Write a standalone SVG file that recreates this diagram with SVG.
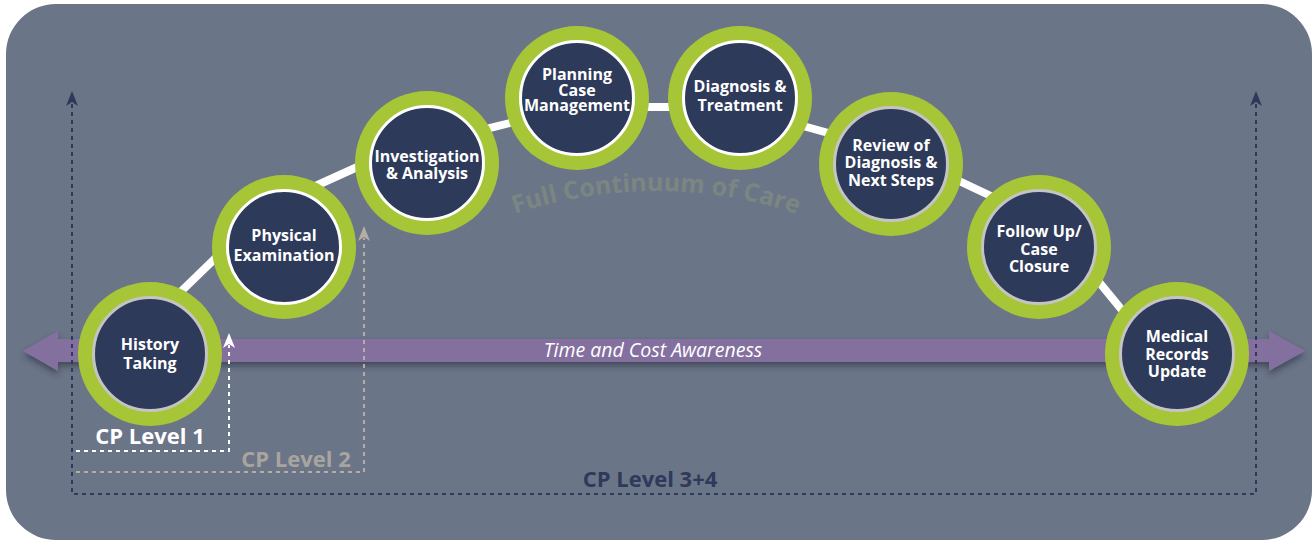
<svg xmlns="http://www.w3.org/2000/svg" width="1314" height="542" viewBox="0 0 1314 542">
<defs>
<style>
.ring{fill:#a7c637}
.disc{fill:#2e3a5a;stroke-width:3}
.dw{stroke:#ffffff}
.dg{stroke:#c4c4c4}
.lbl{font-family:"Open Sans","Liberation Sans",sans-serif;font-weight:700;font-size:16px;fill:#ffffff;text-anchor:middle}
.arc{stroke:#ffffff;stroke-width:8;stroke-linecap:round;fill:none}
.dash{fill:none;stroke-width:2;stroke-dasharray:4 4}
.cp{font-family:"Open Sans","Liberation Sans",sans-serif;font-weight:700;font-size:22px}
</style>
<filter id="sh" x="-5%" y="-60%" width="110%" height="260%">
<feDropShadow dx="0" dy="4" stdDeviation="3" flood-color="#262b3c" flood-opacity="0.6"/>
</filter>
<path id="curve" d="M 406 267.9 A 445 445 0 0 1 906 267.9"/>
</defs>
<rect width="1314" height="542" fill="#ffffff"/>
<rect x="6" y="4" width="1306" height="536" rx="50" ry="50" fill="#6b7588"/>
<text font-family="'Open Sans','Liberation Sans',sans-serif" font-weight="700" font-size="25" fill="#7a8681" text-anchor="middle"><textPath href="#curve" startOffset="50%">Full Continuum of Care</textPath></text>
<g id="timeArrow">
<polygon points="23,351 58,331 58,339 1269,339 1269,331 1305,351 1269,371 1269,362 58,362 58,371" fill="#84709f" filter="url(#sh)"/>
<text x="653" y="357" font-family="'Open Sans','Liberation Sans',sans-serif" font-style="italic" font-size="19.5" fill="#ffffff" text-anchor="middle">Time and Cost Awareness</text>
</g>
<g id="connectors">
<polyline class="dash" stroke="#2e3a5a" points="72,104 72,494 1256,494 1256,104"/>
<polygon points="72,91 78,106 72,102 66,106" fill="#2e3a5a"/>
<polygon points="1256,91 1262,106 1256,102 1250,106" fill="#2e3a5a"/>
<polyline class="dash" stroke="#b5aea5" points="76,472 364,472 364,238"/>
<polygon points="364,226 370,241 364,237 358,241" fill="#b5aea5"/>
<polyline class="dash" stroke="#ffffff" points="76,451 229,451 229,345"/>
<polygon points="229,333 235,348 229,344 223,348" fill="#ffffff"/>
<line class="arc" x1="165" y1="307" x2="230" y2="244"/>
<line class="arc" x1="300" y1="193" x2="375" y2="159"/>
<line class="arc" x1="470" y1="133" x2="530" y2="118"/>
<line class="arc" x1="620" y1="107" x2="700" y2="107"/>
<line class="arc" x1="785" y1="121" x2="850" y2="139"/>
<line class="arc" x1="940" y1="172" x2="1010" y2="205"/>
<line class="arc" x1="1085" y1="265" x2="1140" y2="332"/>
</g>
<g id="history">
<circle class="ring" cx="150" cy="354" r="72"/>
<circle class="disc dg" cx="150" cy="354" r="56.5"/>
<text class="lbl"><tspan x="150" y="350">History</tspan><tspan x="150" y="369">Taking</tspan></text>
</g>
<g id="physical">
<circle class="ring" cx="284" cy="247" r="72"/>
<circle class="disc dw" cx="284" cy="247" r="56.5"/>
<text class="lbl"><tspan x="284" y="241">Physical</tspan><tspan x="284" y="261">Examination</tspan></text>
</g>
<g id="investigation">
<circle class="ring" cx="427" cy="163" r="72"/>
<circle class="disc dw" cx="427" cy="163" r="56.5"/>
<text class="lbl"><tspan x="427" y="162">Investigation</tspan><tspan x="427" y="179">&amp; Analysis</tspan></text>
</g>
<g id="planning">
<circle class="ring" cx="577" cy="98" r="72"/>
<circle class="disc dw" cx="577" cy="98" r="56.5"/>
<text class="lbl"><tspan x="577" y="80">Planning</tspan><tspan x="577" y="95.5">Case</tspan><tspan x="577" y="111">Management</tspan></text>
</g>
<g id="diagnosis">
<circle class="ring" cx="740" cy="98" r="72"/>
<circle class="disc dw" cx="740" cy="98" r="56.5"/>
<text class="lbl"><tspan x="740" y="92">Diagnosis &amp;</tspan><tspan x="740" y="111">Treatment</tspan></text>
</g>
<g id="review">
<circle class="ring" cx="891" cy="164" r="72"/>
<circle class="disc dg" cx="891" cy="164" r="56.5"/>
<text class="lbl"><tspan x="891" y="150.5">Review of</tspan><tspan x="891" y="168">Diagnosis &amp;</tspan><tspan x="891" y="185.5">Next Steps</tspan></text>
</g>
<g id="followup">
<circle class="ring" cx="1039" cy="247" r="72"/>
<circle class="disc dg" cx="1039" cy="247" r="56.5"/>
<text class="lbl"><tspan x="1039" y="237">Follow Up/</tspan><tspan x="1039" y="254.5">Case</tspan><tspan x="1039" y="272">Closure</tspan></text>
</g>
<g id="medical">
<circle class="ring" cx="1177" cy="354" r="72"/>
<circle class="disc dg" cx="1177" cy="354" r="56.5"/>
<text class="lbl"><tspan x="1177" y="342">Medical</tspan><tspan x="1177" y="359.5">Records</tspan><tspan x="1177" y="377">Update</tspan></text>
</g>
<g id="labels">
<text class="cp" x="150" y="444" fill="#ffffff" text-anchor="middle">CP Level 1</text>
<text class="cp" x="296" y="467" fill="#aaa49e" text-anchor="middle">CP Level 2</text>
<text class="cp" x="650" y="487" fill="#2e3a5a" text-anchor="middle">CP Level 3+4</text>
</g>
</svg>
